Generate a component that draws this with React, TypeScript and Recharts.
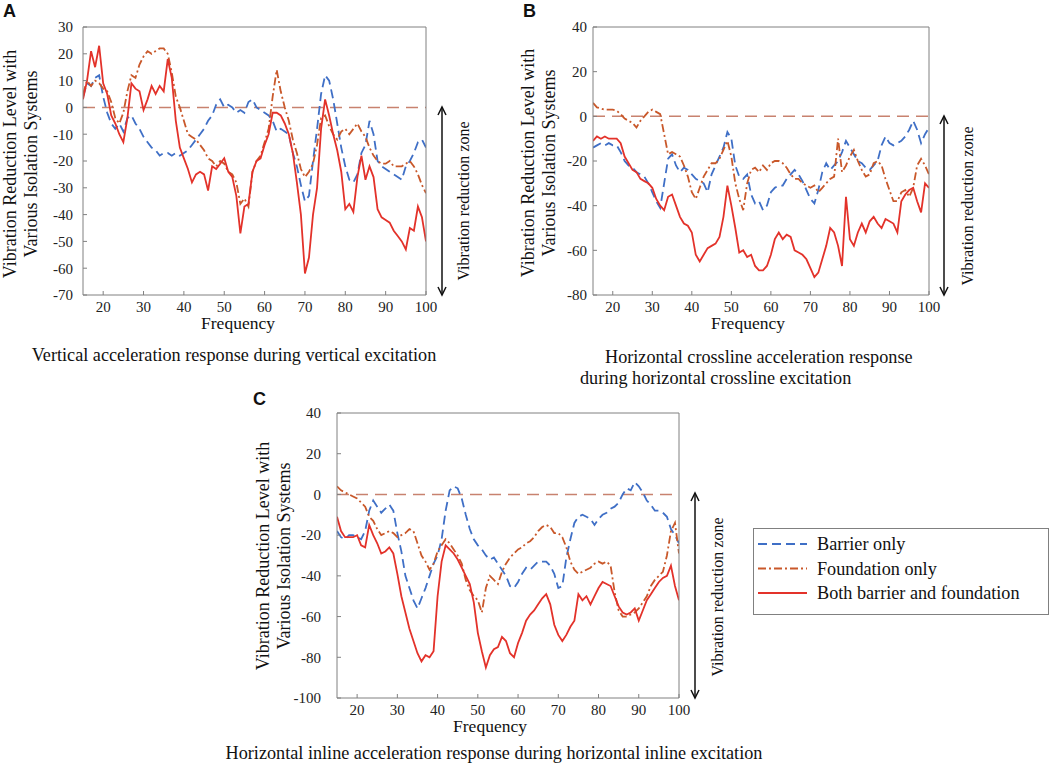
import React from 'react';
import { LineChart, Line, XAxis, YAxis, ReferenceLine } from 'recharts';

const FREQ = [
  15, 16, 17, 18, 19, 20, 21, 22, 23, 24,
  25, 26, 27, 28, 29, 30, 31, 32, 33, 34,
  35, 36, 37, 38, 39, 40, 41, 42, 43, 44,
  45, 46, 47, 48, 49, 50, 51, 52, 53, 54,
  55, 56, 57, 58, 59, 60, 61, 62, 63, 64,
  65, 66, 67, 68, 69, 70, 71, 72, 73, 74,
  75, 76, 77, 78, 79, 80, 81, 82, 83, 84,
  85, 86, 87, 88, 89, 90, 91, 92, 93, 94,
  95, 96, 97, 98, 99, 100,
];

const X_TICKS = [20, 30, 40, 50, 60, 70, 80, 90, 100];
const A_Y_TICKS = [-70, -60, -50, -40, -30, -20, -10, 0, 10, 20, 30];
const B_Y_TICKS = [-80, -60, -40, -20, 0, 20, 40];
const C_Y_TICKS = [-100, -80, -60, -40, -20, 0, 20, 40];

// Panel A: vertical excitation
const A_BARRIER = [
  4, 9, 8, 11, 12, 4, -2, -6, -8, -6,
  -9, -4, -3, -6, -8, -11, -13, -15, -16, -18,
  -17, -17, -18, -17, -18, -17, -16, -14, -12, -10,
  -8, -5, -3, 1, 3, 0, 1, 0, -2, -1,
  -2, 2, 3, 0, -1, -2, -3, -5, -9, -8,
  -9, -10, -17, -22, -29, -35, -33, -20, -8, 5,
  12, 10, 3, -6, -15, -22, -27, -28, -25, -17,
  -14, -5, -10, -20, -22, -23, -24, -25, -26, -27,
  -22, -20, -17, -13, -12, -15,
];
const A_FOUNDATION = [
  5, 10, 8, 10, 9, 7, 6, 2, -4, -6,
  -2, 6, 12, 11, 16, 19, 21, 20, 21, 22,
  22, 20, 13, 4, 0, -5, -10, -11, -12, -14,
  -16, -19, -20, -22, -20, -21, -24, -25, -28, -36,
  -34, -37, -24, -20, -18, -13, -8, 4, 14, 6,
  0, -5, -12, -17, -23, -26, -24, -21, -14, -4,
  -3, -7, -10, -12, -9, -8, -10, -8, -6, -9,
  -11, -15, -18, -20, -21, -21, -20, -22, -22, -22,
  -21, -20, -22, -25, -29, -32,
];
const A_BOTH = [
  3, 10, 21, 15, 23, 9, 5, -3, -6, -10,
  -13, -4, 9, 7, 6, -1, 3, 8, 5, 8,
  6, 18, 11, -5, -15, -19, -23, -28, -25, -24,
  -25, -31, -22, -23, -21, -19, -24, -26, -33, -47,
  -37, -36, -24, -20, -19, -14, -10, -2, -2, -3,
  -6, -10, -17, -28, -40, -62, -56, -40, -30, -8,
  3, -3, -10, -16, -24, -38, -36, -39, -26, -18,
  -27, -22, -26, -38, -41, -42, -43, -46, -48, -50,
  -53, -45, -46, -37, -41, -50,
];

// Panel B: horizontal crossline excitation
const B_BARRIER = [
  -14, -13, -12, -13, -12, -13, -13, -16, -20, -22,
  -23, -25, -26, -27, -30, -34, -38, -41, -30, -19,
  -17, -22, -25, -23, -24, -26, -28, -29, -30, -34,
  -26, -22, -18, -14, -7, -10, -22, -27, -28, -26,
  -35, -39, -38, -42, -40, -34, -32, -31, -31, -28,
  -26, -24, -26, -29, -33, -37, -39, -33, -25, -21,
  -24, -22, -20, -16, -11, -14, -17, -20, -21, -23,
  -24, -22, -20, -13, -9, -12, -13, -12, -11, -9,
  -6, -2, -6, -12, -8, -5,
];
const B_FOUNDATION = [
  6, 4, 3.5, 3, 3, 3, 2.5, 1, -1, -2,
  -3, -5, -2, 0, 2, 3, 2, 1, -8, -17,
  -16, -17, -18, -22, -27, -34, -37, -32, -27, -24,
  -21, -21, -19, -15, -11, -18, -30, -37, -42, -30,
  -24, -23, -25, -22, -24, -21, -20, -20, -21, -23,
  -26, -28, -28, -30, -31, -32, -31, -34, -32, -30,
  -28, -27, -10, -25, -22, -18, -15, -20, -24, -27,
  -26, -21, -20, -22, -28, -33, -38, -38, -34, -33,
  -36, -32, -22, -19, -22, -26,
];
const B_BOTH = [
  -11, -9, -10, -9, -10, -10, -10, -12, -18, -21,
  -24, -25, -28, -29, -30, -32, -37, -40, -42, -36,
  -35, -40, -45, -48, -49, -52, -62, -65, -62, -59,
  -58, -57, -54, -45, -31, -40, -50, -61, -60, -63,
  -62, -67, -69, -69, -67, -62, -55, -52, -55, -53,
  -54, -60, -61, -62, -64, -68, -72, -70, -64, -58,
  -50, -52, -58, -67, -36, -55, -58, -52, -48, -52,
  -47, -45, -48, -50, -46, -47, -48, -52, -38, -35,
  -33, -32, -38, -43, -30, -32,
];

// Panel C: horizontal inline excitation
const C_BARRIER = [
  -18, -21, -22, -20, -20, -21, -22, -18, -8, -3,
  -6, -9, -7, -5, -8, -19, -28, -40, -46, -52,
  -56, -51, -46, -40, -34, -30, -22, -8, 2, 4,
  3, -2, -10, -17, -22, -25, -27, -30, -32, -31,
  -34, -37, -40, -45, -46, -43, -39, -36, -37, -35,
  -33, -33, -33, -35, -39, -46, -45, -31, -22, -14,
  -11, -10, -11, -12, -15, -12, -10, -9, -7, -6,
  -4, 0, 3, 2, 6, 4, 1, -3, -5, -8,
  -8, -9, -11, -17, -20, -24,
];
const C_FOUNDATION = [
  4, 2, 1, 0, -1, -2, -4, -6, -11, -13,
  -17, -20, -19, -18, -19, -21, -20, -19, -17, -18,
  -24, -30, -33, -37, -34, -28, -25, -22, -24, -27,
  -30, -34, -42, -47, -50, -52, -58, -46, -40, -42,
  -44, -38, -34, -31, -29, -27, -26, -24, -23, -21,
  -18, -16, -15, -16, -19, -19, -21, -26, -33, -37,
  -39, -38, -37, -36, -34, -33, -34, -33, -35, -48,
  -57, -60, -60, -59, -58, -56, -53, -50, -45, -42,
  -40, -38, -30, -18, -14, -29,
];
const C_BOTH = [
  -11, -18, -21, -21, -21, -20, -25, -26, -15, -20,
  -24, -29, -28, -26, -29, -39, -50, -58, -66, -72,
  -78, -82, -79, -80, -77, -50, -33, -25, -27, -29,
  -32, -36, -40, -44, -53, -68, -77, -85, -79, -76,
  -75, -70, -72, -78, -80, -73, -68, -62, -59, -57,
  -54, -51, -49, -54, -64, -69, -72, -69, -65, -62,
  -49, -52, -50, -54, -50, -46, -43, -44, -45, -50,
  -55, -58, -59, -58, -56, -62, -57, -52, -49, -46,
  -43, -41, -40, -35, -45, -52,
];

const SERIES = [
  { key: 'barrier', name: 'Barrier only', color: '#3f6fc6', dash: '9 5' },
  { key: 'foundation', name: 'Foundation only', color: '#c9582a', dash: '8 3 2 3' },
  { key: 'both', name: 'Both barrier and foundation', color: '#e3322a', dash: undefined },
];

const SERIF = "'Liberation Serif', 'Times New Roman', 'DejaVu Serif', serif";
const SANS = "'Liberation Sans', Arial, sans-serif";
const FRAME = '#808080';

function buildRows(barrier: number[], foundation: number[], both: number[]) {
  return FREQ.map((f, i) => ({ f, barrier: barrier[i], foundation: foundation[i], both: both[i] }));
}

const DATA_A = buildRows(A_BARRIER, A_FOUNDATION, A_BOTH);
const DATA_B = buildRows(B_BARRIER, B_FOUNDATION, B_BOTH);
const DATA_C = buildRows(C_BARRIER, C_FOUNDATION, C_BOTH);

type PanelProps = {
  data: any[];
  yDomain: [number, number];
  yTicks: number[];
  left: number;
  top: number;
  w: number;
  h: number;
  yTickMargin: number;
};

function Panel({ data, yDomain, yTicks, left, top, w, h, yTickMargin }: PanelProps) {
  const YW = 90;
  const XH = 40;
  const MT = 9;
  const MR = 19;
  const tickStyle = { fill: '#222', fontSize: 15, fontFamily: SERIF };
  return (
    <div style={{ position: 'absolute', left: left - YW, top: top - MT - 1 }}>
      <LineChart
        width={YW + w + 1 + MR}
        height={MT + 1 + h + XH}
        data={data}
        margin={{ top: MT, right: MR, bottom: 0, left: 0 }}
      >
        <XAxis
          dataKey="f"
          type="number"
          domain={[15, 100]}
          ticks={X_TICKS}
          interval={0}
          height={XH}
          tickSize={-4}
          tickMargin={10}
          stroke={FRAME}
          tick={tickStyle}
          allowDataOverflow
        />
        <XAxis
          xAxisId="top"
          orientation="top"
          dataKey="f"
          type="number"
          domain={[15, 100]}
          ticks={X_TICKS}
          interval={0}
          height={1}
          tickSize={-4}
          stroke={FRAME}
          tick={false}
          allowDataOverflow
        />
        <YAxis
          type="number"
          domain={yDomain}
          ticks={yTicks}
          interval={0}
          width={YW}
          tickSize={-4}
          tickMargin={yTickMargin}
          stroke={FRAME}
          tick={tickStyle}
          allowDataOverflow
        />
        <YAxis
          yAxisId="right"
          orientation="right"
          type="number"
          domain={yDomain}
          ticks={yTicks}
          interval={0}
          width={1}
          tickSize={-4}
          stroke={FRAME}
          tick={false}
          allowDataOverflow
        />
        <ReferenceLine y={0} stroke="#c8826f" strokeWidth={1.5} strokeDasharray="12 7" />
        {SERIES.map((s) => (
          <Line
            key={s.key}
            dataKey={s.key}
            name={s.name}
            type="linear"
            stroke={s.color}
            strokeWidth={1.8}
            strokeDasharray={s.dash}
            dot={false}
            activeDot={false}
            isAnimationActive={false}
          />
        ))}
      </LineChart>
    </div>
  );
}

function Arrow({ x, y1, y2 }: { x: number; y1: number; y2: number }) {
  return (
    <g stroke="#111" strokeWidth={1.5} fill="none">
      <line x1={x} y1={y1} x2={x} y2={y2} />
      <polyline points={`${x - 4},${y1 + 8} ${x},${y1} ${x + 4},${y1 + 8}`} />
      <polyline points={`${x - 4},${y2 - 8} ${x},${y2} ${x + 4},${y2 - 8}`} />
    </g>
  );
}

function RotText({ x, y, size, children }: { x: number; y: number; size: number; children: React.ReactNode }) {
  return (
    <text
      transform={`translate(${x},${y}) rotate(-90)`}
      textAnchor="middle"
      dominantBaseline="central"
      fontFamily={SERIF}
      fontSize={size}
      fill="#111"
    >
      {children}
    </text>
  );
}

function Overlay() {
  const T = { fontFamily: SERIF, fill: '#111' };
  return (
    <svg
      width={1052}
      height={765}
      style={{ position: 'absolute', left: 0, top: 0, pointerEvents: 'none' }}
    >
      {/* panel letters */}
      <text x={3} y={17} fontFamily={SANS} fontWeight="bold" fontSize={18} fill="#111">A</text>
      <text x={523} y={17} fontFamily={SANS} fontWeight="bold" fontSize={18} fill="#111">B</text>
      <text x={253} y={405} fontFamily={SANS} fontWeight="bold" fontSize={18} fill="#111">C</text>

      {/* y axis titles */}
      <RotText x={10} y={164} size={18}>Vibration Reduction Level with</RotText>
      <RotText x={31} y={164} size={18}>Various Isolation Systems</RotText>
      <RotText x={528} y={163} size={18}>Vibration Reduction Level with</RotText>
      <RotText x={549} y={163} size={18}>Various Isolation Systems</RotText>
      <RotText x={263} y={556} size={18}>Vibration Reduction Level with</RotText>
      <RotText x={284} y={556} size={18}>Various Isolation Systems</RotText>

      {/* x axis titles */}
      <text x={238} y={323} textAnchor="middle" dominantBaseline="central" fontSize={17.5} {...T}>Frequency</text>
      <text x={748} y={323} textAnchor="middle" dominantBaseline="central" fontSize={17.5} {...T}>Frequency</text>
      <text x={490} y={726} textAnchor="middle" dominantBaseline="central" fontSize={17.5} {...T}>Frequency</text>

      {/* reduction zone arrows */}
      <Arrow x={442} y1={107} y2={295} />
      <RotText x={463} y={201} size={16}>Vibration reduction zone</RotText>
      <Arrow x={944} y1={116} y2={295} />
      <RotText x={967} y={206} size={16}>Vibration reduction zone</RotText>
      <Arrow x={695} y1={493} y2={698} />
      <RotText x={717} y={597} size={16}>Vibration reduction zone</RotText>

      {/* captions */}
      <text x={234} y={355} textAnchor="middle" dominantBaseline="central" fontSize={18.2} {...T}>
        Vertical acceleration response during vertical excitation
      </text>
      <text x={605} y={357} dominantBaseline="central" fontSize={18.2} {...T}>
        Horizontal crossline acceleration response
      </text>
      <text x={580} y={378} dominantBaseline="central" fontSize={18.2} {...T}>
        during horizontal crossline excitation
      </text>
      <text x={494} y={753} textAnchor="middle" dominantBaseline="central" fontSize={18.2} {...T}>
        Horizontal inline acceleration response during horizontal inline excitation
      </text>

      {/* legend */}
      <rect x={753.5} y={528.5} width={295} height={86} fill="#fff" stroke={FRAME} strokeWidth={1} />
      {SERIES.map((s, i) => {
        const cy = 544 + i * 24.5;
        return (
          <g key={s.key}>
            <line
              x1={758}
              x2={807}
              y1={cy}
              y2={cy}
              stroke={s.color}
              strokeWidth={1.8}
              strokeDasharray={s.dash}
            />
            <text x={817} y={cy} dominantBaseline="central" fontSize={18.2} {...T}>
              {s.name}
            </text>
          </g>
        );
      })}
    </svg>
  );
}

export default function App() {
  return (
    <div
      style={{
        position: 'absolute',
        left: 0,
        top: 0,
        width: 1052,
        height: 765,
        background: '#fff',
        overflow: 'hidden',
      }}
    >
      <Overlay />
      <Panel data={DATA_A} yDomain={[-70, 30]} yTicks={A_Y_TICKS} left={83} top={27} w={343} h={268} yTickMargin={14} />
      <Panel data={DATA_B} yDomain={[-80, 40]} yTicks={B_Y_TICKS} left={593} top={27} w={336} h={268} yTickMargin={10} />
      <Panel data={DATA_C} yDomain={[-100, 40]} yTicks={C_Y_TICKS} left={337} top={413} w={342} h={285} yTickMargin={20} />
    </div>
  );
}
